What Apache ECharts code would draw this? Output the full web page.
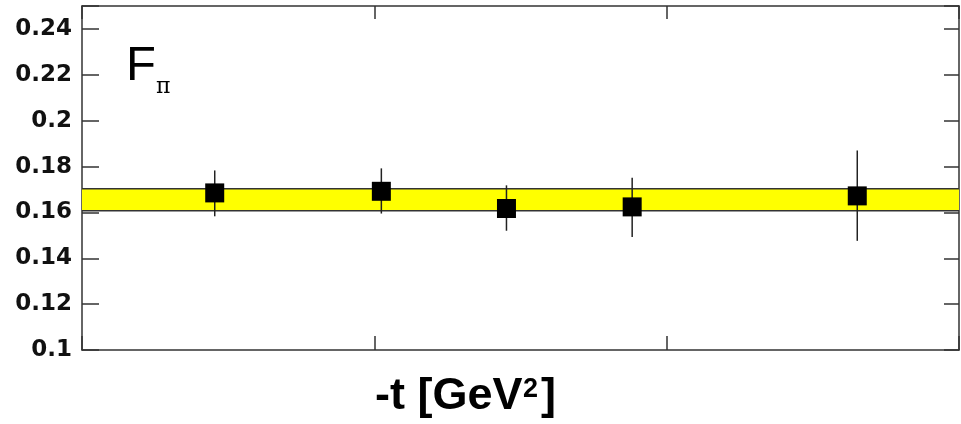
<!DOCTYPE html>
<html lang="en">
  <head>
    <meta charset="UTF-8" />
    <title>F_pi vs -t</title>
    <script src="https://cdn.jsdelivr.net/npm/echarts@6/dist/echarts.min.js"></script>
    <style>
      html, body { margin: 0; padding: 0; background: #fff; }
      #chart { width: 961px; height: 424px; }
    </style>
  </head>
  <body>
    <div id="chart"></div>
    <script>
      // -t values [GeV^2] and F_pi with error ranges
      const tValues = [0.227, 0.512, 0.726, 0.941, 1.326];
      const fpi = [0.1685, 0.1692, 0.1617, 0.1624, 0.1672];
      const errLow = [0.1583, 0.1595, 0.1520, 0.1493, 0.1476];
      const errHigh = [0.1783, 0.1792, 0.1718, 0.1751, 0.1870];
      // fitted constant band
      const bandLow = 0.1607;
      const bandHigh = 0.1703;

      const xMin = 0, xMax = 1.5;
      const yMin = 0.1, yMax = 0.25;

      let chart = echarts.init(document.getElementById("chart"), null, {
        renderer: "canvas",
      });

      const axisLine = { show: true, onZero: false, lineStyle: { color: "#333", width: 1.5 } };
      const tick = (len) => ({ show: true, inside: true, length: len, lineStyle: { color: "#333", width: 1.5 } });

      const points = tValues.map((t, i) => [t, fpi[i]]);
      const bars = tValues.map((t, i) => [t, errLow[i], errHigh[i]]);

      chart.setOption({
        animation: false,
        grid: { left: 82, right: 2, top: 6, bottom: 74 },
        xAxis: [
          {
            type: "value", min: xMin, max: xMax, interval: 0.5, position: "bottom",
            axisLine: axisLine, axisTick: tick(14),
            axisLabel: { show: false }, splitLine: { show: false },
          },
          {
            type: "value", min: xMin, max: xMax, interval: 0.5, position: "top",
            axisLine: axisLine, axisTick: tick(13),
            axisLabel: { show: false }, splitLine: { show: false },
          },
        ],
        yAxis: [
          {
            type: "value", min: yMin, max: yMax, interval: 0.02, position: "left",
            axisLine: axisLine, axisTick: tick(17),
            axisLabel: {
              margin: 10,
              color: "#111",
              fontFamily: "DejaVu Sans",
              fontWeight: "bold",
              fontSize: 23,
              formatter: (v) => (v > 0.245 ? "" : String(+v.toFixed(2))),
            },
            splitLine: { show: false },
          },
          {
            type: "value", min: yMin, max: yMax, interval: 0.02, position: "right",
            axisLine: axisLine, axisTick: tick(15),
            axisLabel: { show: false }, splitLine: { show: false },
          },
        ],
        graphic: [
          {
            type: "text", left: 126, top: 42,
            style: { text: "F", fontFamily: "Liberation Sans", fontSize: 49, fill: "#000" },
          },
          {
            type: "text", left: 156, top: 76,
            style: { text: "π", fontFamily: "DejaVu Serif", fontSize: 22, fill: "#000" },
          },
          {
            type: "text", x: 375, y: 397,
            style: {
              text: "-t [GeV", fontFamily: "Liberation Sans", fontWeight: "bold",
              fontSize: 45, fill: "#000", align: "left", verticalAlign: "middle",
            },
          },
          {
            type: "text", x: 523, y: 390,
            style: {
              text: "2", fontFamily: "Liberation Sans", fontWeight: "bold",
              fontSize: 27, fill: "#000", align: "left", verticalAlign: "middle",
            },
          },
          {
            type: "text", x: 541, y: 397,
            style: {
              text: "]", fontFamily: "Liberation Sans", fontWeight: "bold",
              fontSize: 45, fill: "#000", align: "left", verticalAlign: "middle",
            },
          },
        ],
        series: [
          {
            type: "custom",
            z: 1,
            data: [[bandLow, bandHigh]],
            renderItem: function (params, api) {
              const p1 = api.coord([xMin, api.value(1)]);
              const p2 = api.coord([xMax, api.value(0)]);
              return {
                type: "group",
                children: [
                  {
                    type: "rect",
                    shape: { x: p1[0], y: p1[1], width: p2[0] - p1[0], height: p2[1] - p1[1] },
                    style: { fill: "#ffff00" },
                  },
                  {
                    type: "line",
                    shape: { x1: p1[0], y1: p1[1], x2: p2[0], y2: p1[1] },
                    style: { stroke: "#333", lineWidth: 1.5 },
                  },
                  {
                    type: "line",
                    shape: { x1: p1[0], y1: p2[1], x2: p2[0], y2: p2[1] },
                    style: { stroke: "#333", lineWidth: 1.5 },
                  },
                ],
              };
            },
          },
          {
            type: "custom",
            z: 2,
            data: bars,
            renderItem: function (params, api) {
              const lo = api.coord([api.value(0), api.value(1)]);
              const hi = api.coord([api.value(0), api.value(2)]);
              return {
                type: "line",
                shape: { x1: lo[0], y1: lo[1], x2: hi[0], y2: hi[1] },
                style: { stroke: "#222", lineWidth: 1.5 },
              };
            },
          },
          {
            type: "scatter",
            z: 3,
            symbol: "rect",
            symbolSize: 19,
            itemStyle: { color: "#000", opacity: 1 },
            data: points,
          },
        ],
      });
    </script>
  </body>
</html>
